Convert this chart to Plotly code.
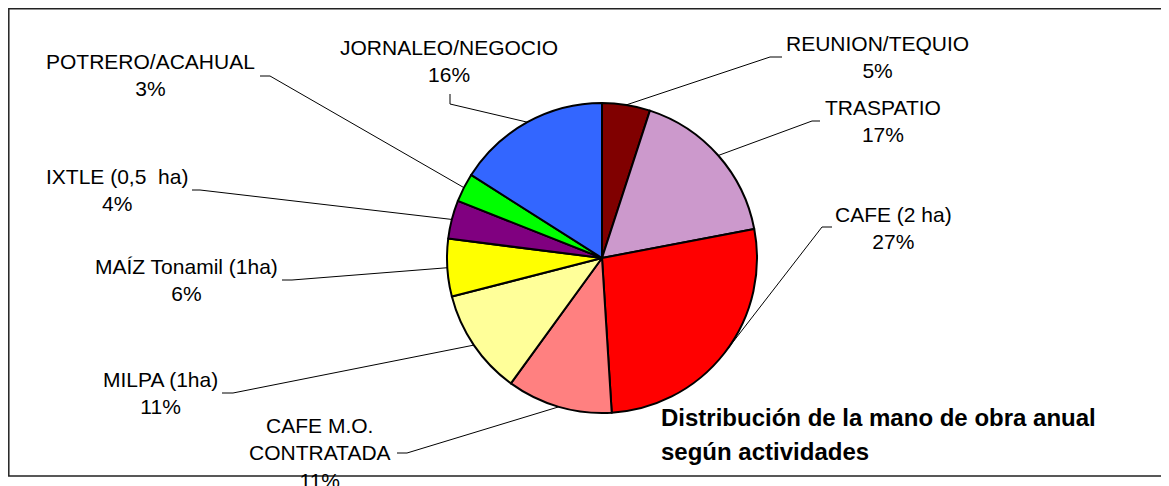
import math
import plotly.graph_objects as go

# ---- data ----
labels = ["REUNION/TEQUIO", "TRASPATIO", "CAFE (2 ha)", "CAFE M.O.<br>CONTRATADA",
          "MILPA (1ha)", "MAÍZ Tonamil (1ha)", "IXTLE (0,5\u00a0\u00a0ha)",
          "POTRERO/ACAHUAL", "JORNALEO/NEGOCIO"]
values = [5, 17, 27, 11, 11, 6, 4, 3, 16]
pct_labels = ["5%", "17%", "27%", "11%", "11%", "6%", "4%", "3%", "16%"]
colors = ["#800000", "#CC99CC", "#FF0000", "#FF8080", "#FFFF99",
          "#FFFF00", "#800080", "#00FF00", "#3366FF"]
title_lines = ["Distribución de la mano de obra anual", "según actividades"]

# ---- layout (screen pixels of the 1169x486 window) ----
OFF = 8                      # default page body margin
W, H = 1169 - OFF, 486 - OFF  # figure size so it fills the window
CX, CY, R = 602, 258, 155
# label text centre (px)
label_pos = [(877, 57), (883, 121), (893, 228), (320, 453), (160, 393),
             (186, 280), (117, 190), (150, 75), (449, 61)]
# leader: elbow point and end point near label (px)
leader_elbow = [(770, 57), (812, 121), (822, 227), (407, 453), (233, 393),
                (292, 280), (200, 190), (270, 76), (450, 104)]
leader_end = [(782, 57), (820, 121), (832, 227), (397, 453), (222, 393),
              (282, 280), (192, 190), (260, 76), (450, 94)]

FONT = "Liberation Sans, Arial, sans-serif"

def px(x):
    return (x - OFF) / W

def py(y):
    return (H - (y - OFF)) / H

fig = go.Figure(go.Pie(
    labels=labels, values=values, sort=False, direction="clockwise", rotation=0,
    marker=dict(colors=colors, line=dict(color="black", width=2)),
    textinfo="none", hoverinfo="label+percent", showlegend=False,
    domain=dict(x=[px(CX - R), px(CX + R)], y=[py(CY + R), py(CY - R)]),
))

shapes = []
annotations = []
total = sum(values)
cum = 0
for i, v in enumerate(values):
    f = (cum + v / 2) / total
    cum += v
    th = 2 * math.pi * f
    mx = CX + R * math.sin(th)
    my = CY - R * math.cos(th)
    ex, ey = leader_elbow[i]
    lx, ly = leader_end[i]
    shapes.append(dict(
        type="path", xref="paper", yref="paper", layer="below",
        path=f"M {px(mx)},{py(my)} L {px(ex)},{py(ey)} L {px(lx)},{py(ly)}",
        line=dict(color="black", width=1),
    ))
    tx, ty = label_pos[i]
    annotations.append(dict(
        x=px(tx), y=py(ty), xref="paper", yref="paper", xanchor="center",
        yanchor="middle", showarrow=False, align="center",
        text=f"{labels[i]}<br>{pct_labels[i]}",
        font=dict(family=FONT, size=21, color="black"),
    ))

# frame
shapes.append(dict(type="rect", xref="paper", yref="paper", layer="above",
                   x0=px(8.8), x1=px(1163), y0=py(476), y1=py(8.8),
                   line=dict(color="#222222", width=1.5)))

for j, (t, y) in enumerate(zip(title_lines, [417, 451])):
    annotations.append(dict(
        x=px(659), y=py(y), xref="paper", yref="paper", xanchor="left",
        yanchor="middle", showarrow=False, text=f"<b>{t}</b>",
        font=dict(family=FONT, size=24, color="black"),
    ))

fig.update_layout(
    width=W, height=H, margin=dict(l=0, r=0, t=0, b=0),
    paper_bgcolor="white", plot_bgcolor="white",
    shapes=shapes, annotations=annotations,
)

fig.write_html("out.html")
